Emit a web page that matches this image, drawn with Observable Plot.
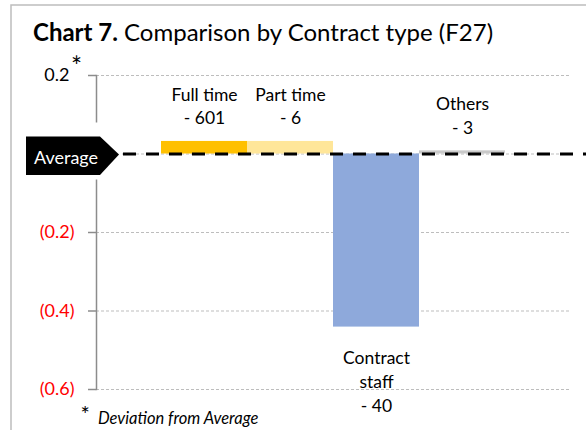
<!DOCTYPE html>
<html><head><meta charset="utf-8">
<script src="https://cdn.jsdelivr.net/npm/d3@7"></script>
<script src="https://cdn.jsdelivr.net/npm/@observablehq/plot@0.6"></script>
<style>
body{margin:0;background:#fff;}
#wrap{position:relative;width:586px;height:430px;overflow:hidden;}
</style>
</head><body>
<div id="wrap"></div>
<script>
// ---- data ----
const categories = ["Full time", "Part time", "Contract staff", "Others"];
const labelLines = ["Full time\n- 601", "Part time\n- 6", "Contract\nstaff\n- 40", "Others\n- 3"];
const deviations = [0.032, 0.032, -0.441, 0.008];
const barColors = ["#FFC000", "#FFE699", "#8EA9DB", "#C9C9C9"];
const tickValues = [0.2, 0, -0.2, -0.4, -0.6];
const titleBold = "Chart 7.";
const titleRest = " Comparison by Contract type (F27)";
const footnote = "Deviation from Average";
const refLabel = "Average";

const data = categories.map((c, i) => ({category: c, label: labelLines[i], value: deviations[i]}));
const FONT = "Lato, sans-serif";

const chart = Plot.plot({
  width: 586, height: 430,
  marginTop: 75, marginBottom: 41, marginLeft: 96, marginRight: 16,
  style: {fontFamily: FONT, fontSize: "17.5px", background: "white", color: "black"},
  x: {type: "band", domain: categories, range: [160, 506], padding: 0, axis: null},
  y: {domain: [-0.6, 0.2], axis: null},
  color: {domain: categories, range: barColors},
  marks: [
    Plot.gridY(tickValues, {stroke: "#bdbdbd", strokeOpacity: 1, strokeDasharray: "3,2"}),
    Plot.barY(data, {x: "category", y: "value", fill: "category"}),
    Plot.ruleY([0], {stroke: "black", strokeWidth: 3, strokeDasharray: "13,10", insetLeft: 27, insetRight: -16}),
    Plot.frame({anchor: "left", stroke: "#8c8c8c", strokeWidth: 1.5}),
    Plot.axisY(tickValues.filter(v => v > 0), {tickSize: 8, tickPadding: 19, stroke: "#8c8c8c", strokeWidth: 1.5, fill: "black", fontSize: 18, label: null, tickFormat: d => d.toFixed(1)}),
    Plot.axisY(tickValues.filter(v => v < 0), {tickSize: 8, tickPadding: 14, stroke: "#8c8c8c", strokeWidth: 1.5, fill: "#FF0000", fontSize: 18, label: null, tickFormat: d => `(${Math.abs(d).toFixed(1)})`}),
    Plot.text(data.filter(d => d.value >= 0), {x: "category", y: "value", text: "label", lineAnchor: "bottom", dy: -17, lineHeight: 1.36, fill: "black", fontSize: 17.5}),
    Plot.text(data.filter(d => d.value < 0), {x: "category", y: "value", text: "label", lineAnchor: "top", dy: 20, lineHeight: 1.36, fill: "black", fontSize: 17.5})
  ]
});

document.getElementById("wrap").appendChild(chart);

// ---- annotations ----
const svg = d3.select(chart);
const y0 = chart.scale("y").apply(0);
const addText = (x, y, size, str) => svg.append("text")
  .attr("x", x).attr("y", y).attr("text-anchor", "start").attr("fill", "black")
  .style("font-family", FONT).style("font-size", size + "px").text(str);

// outer border
svg.append("rect").attr("x", 11).attr("y", 5).attr("width", 700).attr("height", 600)
  .attr("fill", "none").attr("stroke", "#bdbdbd").attr("stroke-width", 1.5);

// white backing behind the Average label (interrupts axis)
svg.append("rect").attr("x", 20).attr("y", y0 - 31).attr("width", 102).attr("height", 57).attr("fill", "white");
svg.append("path")
  .attr("d", `M26,${y0 - 17} L100,${y0 - 17} L119,${y0 + 1} L100,${y0 + 21.5} L26,${y0 + 21.5} Z`)
  .attr("fill", "black");
addText(34, y0 + 10, 18, refLabel).attr("fill", "white");

// title
const t = addText(33, 41, 24, null);
t.append("tspan").style("font-weight", "bold").text(titleBold);
t.append("tspan").text(titleRest);

// asterisk near top tick
addText(71, 76, 26, "*");

// footnote
addText(80.5, 422, 22, "*");
addText(98, 424, 16.5, footnote).style("font-style", "italic");
</script>
</body></html>
